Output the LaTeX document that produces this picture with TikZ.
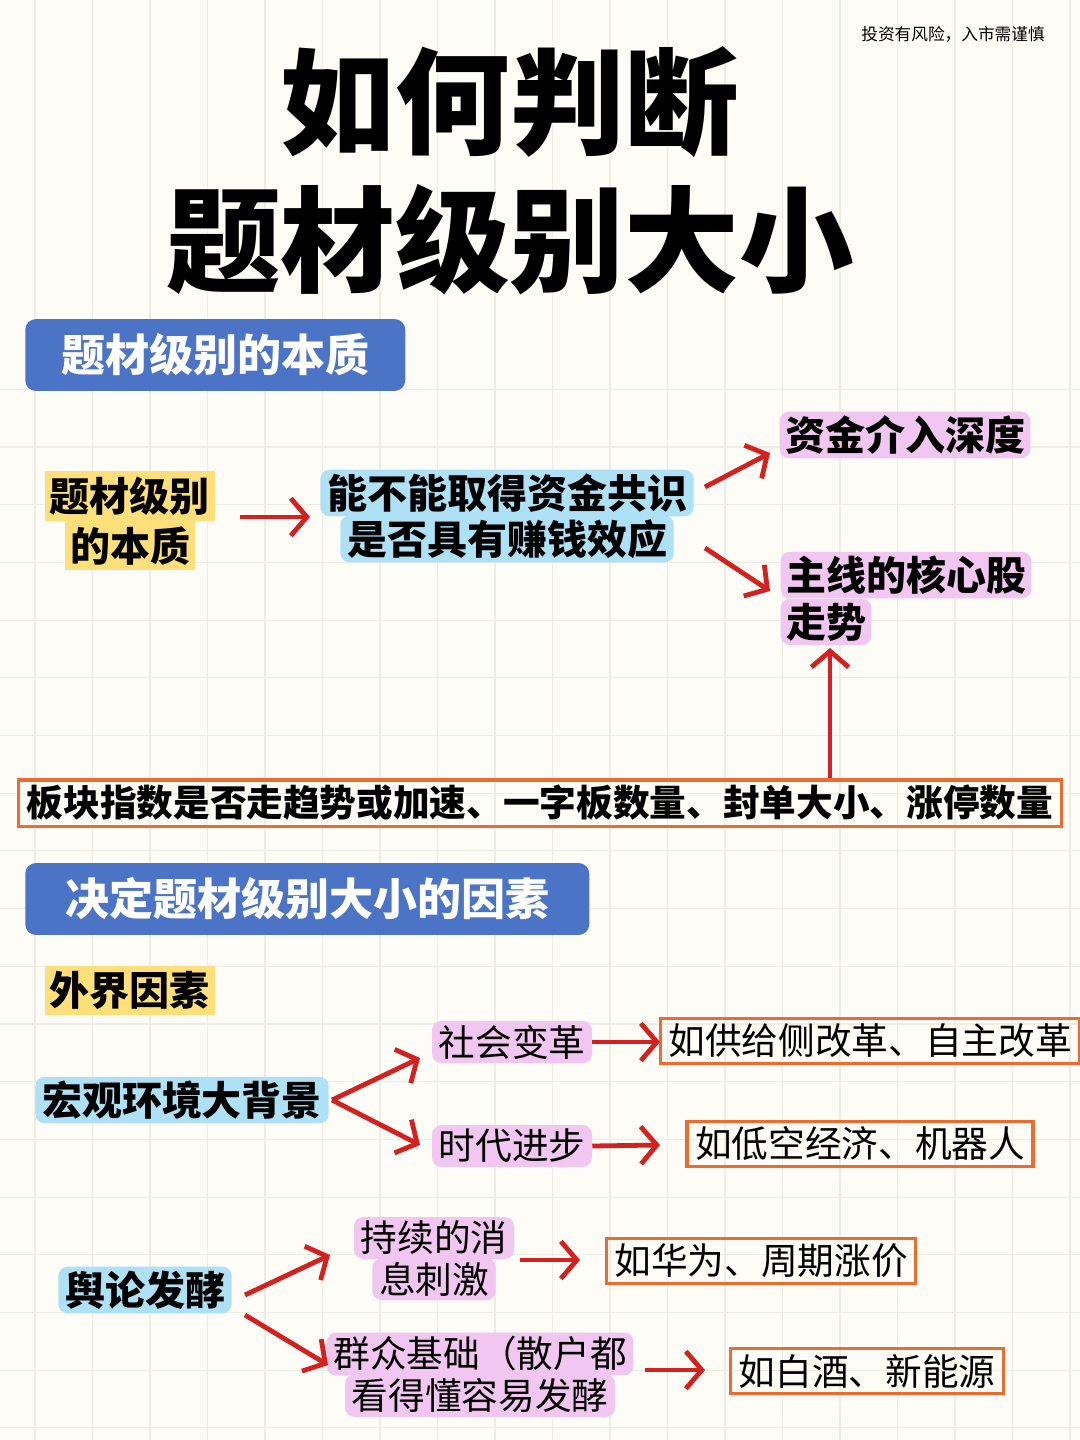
\documentclass[tikz,border=0pt]{standalone}
\usepackage{fontspec}
\setmainfont{Noto Sans CJK SC}
\usetikzlibrary{arrows.meta}
\definecolor{bg}{HTML}{FDFCF6}
\definecolor{gridc}{HTML}{EEEDE3}
\definecolor{hdr}{HTML}{4C74C6}
\definecolor{yel}{HTML}{FFDF7A}
\definecolor{lblue}{HTML}{AEE1F6}
\definecolor{pink}{HTML}{F1C6F0}
\definecolor{redc}{HTML}{D4201E}
\definecolor{orc}{HTML}{EE6A2E}
\tikzset{
 hdrbox/.style={fill=hdr,rounded corners=8pt,text=white,font=\bfseries\fontsize{33}{35}\selectfont,inner xsep=27pt,inner ysep=11pt,anchor=west},
 ybox/.style={fill=yel,font=\bfseries\fontsize{30}{32}\selectfont,inner xsep=4pt,inner ysep=4pt},
 bbox/.style={fill=lblue,rounded corners=7pt,font=\bfseries\fontsize{30}{32}\selectfont,inner xsep=5pt,inner ysep=3pt},
 pbox/.style={fill=pink,rounded corners=7pt,font=\bfseries\fontsize{30}{32}\selectfont,inner xsep=4pt,inner ysep=3pt},
 pboxn/.style={fill=pink,rounded corners=7pt,font=\fontsize{27.5}{29}\selectfont,inner xsep=5pt,inner ysep=3pt},
 obox/.style={draw=orc,line width=2.5pt,font=\fontsize{27.5}{29}\selectfont,inner xsep=6pt,inner ysep=4pt},
 arr/.style={draw=redc,line width=3.6pt,-{Straight Barb[length=12pt,width=28pt,line width=3.6pt]}},
}
\begin{document}
\begin{tikzpicture}[x=0.75pt,y=-0.75pt]
\fill[bg] (0,0) rectangle (1080,1440);
\useasboundingbox (0,0) rectangle (1080,1440);
\foreach \i in {0,...,18} {\draw[gridc,line width=0.8pt] (35+57.5*\i,0) -- (35+57.5*\i,1440);}
\foreach \i in {-1,...,24} {\draw[gridc,line width=0.8pt] (0,447+57.7*\i) -- (1080,447+57.7*\i);}
\node (disc) at (953,34) {\fontsize{12.5}{14}\selectfont 投资有风险，入市需谨慎};
\node (t1) at (510,102) {\bfseries\fontsize{86}{90}\selectfont 如何判断};
\node (t2) at (510,240) {\bfseries\fontsize{86}{90}\selectfont 题材级别大小};
\node[hdrbox] (h1) at (25,355) {题材级别的本质};
% section 1
\node[ybox] (y1a) at (130,496) {题材级别};
\node[ybox,anchor=north] (y1b) at (y1a.south) {的本质};
\node[bbox] (b1a) at (507,493) {能不能取得资金共识};
\node[bbox,anchor=north] (b1b) at ([yshift=1pt]b1a.south) {是否具有赚钱效应};
\node[pbox] (p1) at (905,435) {资金介入深度};
\node[pbox] (p2a) at (906,575) {主线的核心股};
\node[pbox,anchor=north west] (p2b) at (p2a.south west) {走势};
\node[obox,font=\bfseries\fontsize{27.5}{29}\selectfont] (o1) at (540,803) {板块指数是否走趋势或加速、一字板数量、封单大小、涨停数量};
\coordinate (c1) at (240,517);
\coordinate (c2) at (830,648);
\draw[arr] (c1) -- (310,517);
\draw[arr] (705,487) -- (770,453);
\draw[arr] (705,548) -- (770,591);
\draw[arr] (o1.north -| c2) -- (c2);
% section 2
\node[hdrbox,inner xsep=30pt] (h2) at (25,899) {决定题材级别大小的因素};
\node[ybox] (y2) at (130,990) {外界因素};
\node[bbox] (m1) at (182,1100) {宏观环境大背景};
\node[pboxn] (s1) at (512,1042) {社会变革};
\node[pboxn] (s2) at (512,1146) {时代进步};
\node[obox] (e1) at (870,1041) {如供给侧改革、自主改革};
\node[obox] (e2) at (860,1144) {如低空经济、机器人};
\draw[arr] (332,1100) -- (420,1058);
\draw[arr] (332,1100) -- (420,1145);
\draw[arr] (s1.east) -- (660,1042);
\draw[arr] (s2.east) -- (660,1145);
\node[bbox] (m2) at (145,1290) {舆论发酵};
\node[pboxn] (q1a) at (434,1238) {持续的消};
\node[pboxn,anchor=north] (q1b) at ([yshift=1pt]q1a.south) {息刺激};
\node[pboxn] (q2a) at (480,1354) {群众基础（散户都};
\node[pboxn,anchor=north] (q2b) at ([yshift=1pt]q2a.south) {看得懂容易发酵};
\node[obox] (e3) at (761,1261) {如华为、周期涨价};
\node[obox] (e4) at (867,1371) {如白酒、新能源};
\draw[arr] (245,1295) -- (330,1255);
\draw[arr] (245,1315) -- (328,1365);
\draw[arr] (520,1260) -- (580,1260);
\draw[arr] (645,1370) -- (705,1370);
\end{tikzpicture}
\end{document}
